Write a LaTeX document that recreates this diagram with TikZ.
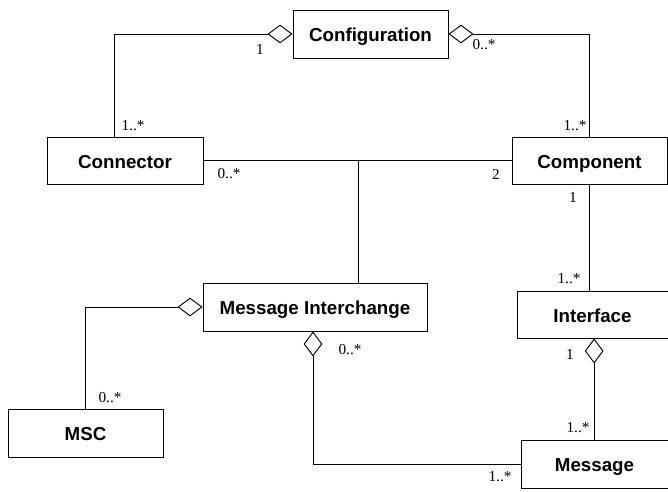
\documentclass[tikz,border=0pt]{standalone}
\usepackage{fontspec}
\setmainfont{Liberation Serif}
\setsansfont{Liberation Sans}
\usetikzlibrary{arrows.meta}

\tikzset{
  cls/.style={draw, line width=0.8pt, inner sep=0pt, text height=13pt, text depth=0pt,
    font=\sffamily\bfseries\fontsize{16}{18}\selectfont},
  agg/.style={{Diamond[open,length=7.5mm,width=5.6mm,line width=0.8pt]}-},
  mult/.style={inner sep=0pt, font=\fontsize{13}{15}\selectfont},
}

\begin{document}
\begin{tikzpicture}[x=0.03cm, y=-0.03cm, line width=0.8pt]
  \useasboundingbox (0,0) rectangle (668,491);

  % Klassen
  \node[cls, minimum width=4.65cm, minimum height=1.44cm] (conf)  at (370.5,34)  {Configuration};
  \node[cls, minimum width=4.68cm, minimum height=1.41cm] (conn)  at (125,160.5) {Connector};
  \node[cls, minimum width=4.65cm, minimum height=1.41cm] (comp)  at (589.5,160.5) {Component};
  \node[cls, minimum width=6.72cm, minimum height=1.44cm] (mi)    at (315,307)   {Message Interchange};
  \node[cls, minimum width=4.53cm, minimum height=1.41cm] (iface) at (592.5,314.5) {Interface};
  \node[cls, minimum width=4.65cm, minimum height=1.44cm] (msc)   at (85.5,433)  {MSC};
  \node[cls, minimum width=4.41cm, minimum height=1.44cm] (msg)   at (594.5,464) {Message};

  % Aggregationen
  \draw[agg] (conf.west) -| ([xshift=-3.3mm]conn.north);
  \draw[agg] (conf.east) -| (comp.north);
  \draw[agg] (mi.west) -| (msc.north);
  \draw[agg] ([xshift=-0.6mm]mi.south) |- (msg.west);
  \draw[agg] ([xshift=0.5mm]iface.south) -- ([xshift=0.5mm]iface.south |- msg.north);

  % Assoziationen
  \draw (conn.east) -- (comp.west);
  \coordinate (junc) at (358,160.5);
  \draw (junc) -- (junc |- mi.north);
  \draw (comp.south) -- (comp.south |- iface.north);

  % Multiplizitaeten
  \node[mult] (m1) at (260,49)  {1};
  \node[mult] (m2) at (133,126) {1..*};
  \node[mult] (m3) at (484,45)  {0..*};
  \node[mult] (m4) at (575,126) {1..*};
  \node[mult] (m5) at (229,174) {0..*};
  \node[mult] (m6) at (496,174) {2};
  \node[mult] (m7) at (573,197) {1};
  \node[mult] (m8) at (569,279) {1..*};
  \node[mult] (m9) at (570,354) {1};
  \node[mult] (m10) at (350,350) {0..*};
  \node[mult] (m11) at (578,428) {1..*};
  \node[mult] (m12) at (500,477) {1..*};
  \node[mult] (m13) at (110,398) {0..*};
\end{tikzpicture}
\end{document}
